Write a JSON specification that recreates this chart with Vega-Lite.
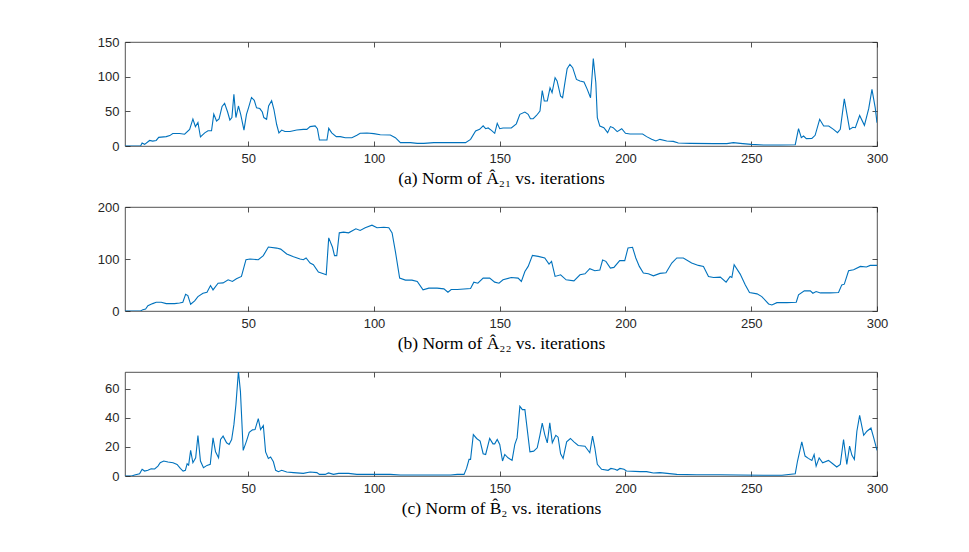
{
  "$schema": "https://vega.github.io/schema/vega-lite/v6.json",
  "padding": {"left": 96, "top": 35, "right": 5, "bottom": 5},
  "spacing": 61,
  "bounds": "flush",
  "datasets": {
    "a": [
      {"it":1,"v":0},{"it":7.2,"v":0},{"it":7.8,"v":4.3},{"it":8.8,"v":2.4},{"it":10.8,"v":8},{"it":12,"v":7},{"it":13.4,"v":8},{"it":14.4,"v":12.5},{"it":17.4,"v":13.5},{"it":18.8,"v":15},{"it":20,"v":18},{"it":22.7,"v":18},{"it":24.7,"v":17},{"it":26.7,"v":24},{"it":28,"v":39},{"it":29,"v":28},{"it":30,"v":34},{"it":31,"v":13},{"it":32.7,"v":19},{"it":34,"v":22},{"it":35.4,"v":22},{"it":36.3,"v":46},{"it":37.4,"v":36},{"it":38.4,"v":39},{"it":39.6,"v":57},{"it":40.6,"v":61.5},{"it":41.8,"v":49},{"it":42.7,"v":37.5},{"it":43.5,"v":41},{"it":44.3,"v":74.5},{"it":45.1,"v":41},{"it":46.1,"v":57.7},{"it":47,"v":45.7},{"it":48.3,"v":23},{"it":49.3,"v":45.7},{"it":50.1,"v":55},{"it":51.3,"v":70},{"it":52.4,"v":66},{"it":53.3,"v":55},{"it":54.6,"v":54},{"it":55.6,"v":49},{"it":56.2,"v":41},{"it":57.3,"v":38.5},{"it":58.1,"v":57.7},{"it":59.3,"v":65.4},{"it":60.2,"v":53},{"it":61.3,"v":31},{"it":62.2,"v":19},{"it":63.3,"v":23},{"it":64.6,"v":21},{"it":66.6,"v":21},{"it":69.3,"v":23},{"it":71.9,"v":24},{"it":73.3,"v":24},{"it":74.6,"v":28},{"it":76.6,"v":29},{"it":77.5,"v":25},{"it":78.3,"v":8.7},{"it":81.3,"v":8.7},{"it":82,"v":25.5},{"it":83.2,"v":19},{"it":85,"v":13.5},{"it":86.6,"v":13.5},{"it":88.6,"v":12},{"it":91.2,"v":12},{"it":93.2,"v":15.4},{"it":94.5,"v":18.3},{"it":97.2,"v":18.8},{"it":99.9,"v":17.8},{"it":102.5,"v":16.3},{"it":106.5,"v":15.9},{"it":108.5,"v":12},{"it":110.5,"v":4.8},{"it":114.5,"v":4.8},{"it":117.2,"v":3.8},{"it":119.8,"v":3.8},{"it":123.8,"v":4.8},{"it":130.5,"v":4.8},{"it":136.4,"v":4.8},{"it":138.4,"v":9.6},{"it":140.4,"v":21.6},{"it":142,"v":24},{"it":143.4,"v":29},{"it":144.4,"v":25},{"it":145.4,"v":26},{"it":146.7,"v":22.6},{"it":148,"v":18.3},{"it":149,"v":32.7},{"it":150,"v":25},{"it":151.3,"v":26},{"it":152.7,"v":26},{"it":154.6,"v":26},{"it":156.6,"v":32},{"it":158,"v":45.7},{"it":160,"v":49},{"it":161.3,"v":45.7},{"it":162.2,"v":39.4},{"it":163.3,"v":39.4},{"it":164.6,"v":44},{"it":166,"v":50.5},{"it":166.9,"v":80},{"it":167.7,"v":65},{"it":168.9,"v":65},{"it":170,"v":84},{"it":170.8,"v":77},{"it":172,"v":98.6},{"it":172.8,"v":93.8},{"it":174.2,"v":72},{"it":175,"v":69.7},{"it":175.9,"v":91},{"it":176.8,"v":111.5},{"it":177.9,"v":117.8},{"it":179,"v":113},{"it":180.5,"v":96},{"it":181.9,"v":93.8},{"it":183.5,"v":92.3},{"it":184.8,"v":81.7},{"it":186.1,"v":69.7},{"it":187.2,"v":126},{"it":188.2,"v":91.3},{"it":188.8,"v":41},{"it":189.8,"v":28.8},{"it":191.4,"v":26.4},{"it":192.9,"v":19.2},{"it":194,"v":28},{"it":195.1,"v":26.4},{"it":196.7,"v":20.7},{"it":198.5,"v":25},{"it":200,"v":18.3},{"it":201.8,"v":17.3},{"it":204.4,"v":17.3},{"it":206.8,"v":17.3},{"it":208.4,"v":13.5},{"it":210.4,"v":9.6},{"it":212.1,"v":7.2},{"it":213.7,"v":9.6},{"it":216.4,"v":7.2},{"it":219,"v":6.7},{"it":221,"v":4.3},{"it":225.7,"v":3.8},{"it":235,"v":3.4},{"it":240.3,"v":3.4},{"it":242.9,"v":4.8},{"it":245.6,"v":3.8},{"it":250,"v":2.4},{"it":254.9,"v":1.4},{"it":261.5,"v":1.4},{"it":267.5,"v":1.9},{"it":268.8,"v":25},{"it":269.9,"v":12},{"it":270.8,"v":14.4},{"it":271.9,"v":10.6},{"it":274.1,"v":11},{"it":275.4,"v":15.4},{"it":277.2,"v":38.5},{"it":278.8,"v":28.8},{"it":280.8,"v":28.8},{"it":282.7,"v":24},{"it":284.3,"v":19.2},{"it":285.4,"v":24},{"it":287,"v":68},{"it":289.1,"v":24},{"it":290.4,"v":27},{"it":291.4,"v":26.4},{"it":293.1,"v":44},{"it":295,"v":29.8},{"it":296.7,"v":53.8},{"it":298,"v":81.7},{"it":299.3,"v":55},{"it":300,"v":33.7}
    ],
    "b": [
      {"it":1,"v":0},{"it":7.2,"v":0},{"it":8.1,"v":2.6},{"it":9.2,"v":3.9},{"it":10.1,"v":10.3},{"it":12,"v":14.2},{"it":13.4,"v":16.8},{"it":15.4,"v":16.8},{"it":17.4,"v":14.2},{"it":20.7,"v":14.2},{"it":22.7,"v":15.5},{"it":24,"v":16.8},{"it":25.1,"v":32},{"it":26,"v":29.7},{"it":27.1,"v":12.9},{"it":28.7,"v":19.4},{"it":30,"v":27.7},{"it":32,"v":34.2},{"it":33.6,"v":36},{"it":35,"v":49},{"it":36,"v":40.6},{"it":38,"v":53.5},{"it":40,"v":54},{"it":42,"v":60},{"it":43.7,"v":56.8},{"it":45.3,"v":62},{"it":47.3,"v":66.5},{"it":49.1,"v":98.7},{"it":50.7,"v":100},{"it":54,"v":98.7},{"it":56,"v":106.5},{"it":58,"v":123},{"it":61.3,"v":121},{"it":62.9,"v":119},{"it":65.3,"v":109.7},{"it":68,"v":104.5},{"it":70.6,"v":100},{"it":71.9,"v":98.7},{"it":73,"v":102},{"it":74.6,"v":92.3},{"it":75.9,"v":89},{"it":77.9,"v":74.8},{"it":79.9,"v":71.6},{"it":81,"v":69.7},{"it":82,"v":140.6},{"it":83.5,"v":122.6},{"it":84.3,"v":106.5},{"it":85.2,"v":106.5},{"it":86.2,"v":150.3},{"it":87.9,"v":151.6},{"it":89.9,"v":150.3},{"it":92.8,"v":158},{"it":94.5,"v":154.8},{"it":96.5,"v":160},{"it":99.2,"v":165},{"it":101.2,"v":160},{"it":103.9,"v":161},{"it":105.9,"v":160},{"it":107.2,"v":150.3},{"it":108.5,"v":114.8},{"it":110.2,"v":63.2},{"it":112.5,"v":59.4},{"it":115.1,"v":59.4},{"it":117.2,"v":56.8},{"it":119.5,"v":40.6},{"it":121.8,"v":43.9},{"it":125.1,"v":43.9},{"it":127.8,"v":42.6},{"it":129.4,"v":36},{"it":130.7,"v":41.3},{"it":133.1,"v":41.3},{"it":138.4,"v":43.2},{"it":139.7,"v":55.5},{"it":141.3,"v":53.5},{"it":143.4,"v":63.2},{"it":146,"v":63.2},{"it":148,"v":55.5},{"it":149.7,"v":53.5},{"it":151.3,"v":60},{"it":154.6,"v":64.5},{"it":157.3,"v":63.2},{"it":158.6,"v":56.8},{"it":160,"v":76},{"it":161.3,"v":85.8},{"it":163,"v":107},{"it":165.3,"v":105},{"it":167.9,"v":102},{"it":169.6,"v":90.3},{"it":170.6,"v":95.5},{"it":172,"v":66.5},{"it":174.2,"v":69.7},{"it":176.4,"v":60},{"it":179.5,"v":58},{"it":181.9,"v":69.7},{"it":183.9,"v":71.6},{"it":185.8,"v":81.3},{"it":187.8,"v":77.4},{"it":189.8,"v":78.7},{"it":190.9,"v":98},{"it":192.2,"v":95.5},{"it":194,"v":82.6},{"it":195.4,"v":83.9},{"it":197.7,"v":96.8},{"it":199.7,"v":96.8},{"it":201,"v":121.3},{"it":202.8,"v":122.6},{"it":204.1,"v":102},{"it":205.5,"v":85.8},{"it":207.1,"v":72.9},{"it":209.1,"v":71.6},{"it":211.1,"v":67.7},{"it":213.7,"v":72.3},{"it":216.1,"v":73.5},{"it":218.4,"v":92.3},{"it":220.4,"v":102},{"it":223,"v":102},{"it":226.3,"v":92.3},{"it":229,"v":87.7},{"it":231,"v":85.8},{"it":233,"v":66.5},{"it":235,"v":64.5},{"it":237.7,"v":65.2},{"it":240,"v":55.5},{"it":241.6,"v":66.5},{"it":242.3,"v":64.5},{"it":243.2,"v":89},{"it":245.6,"v":71},{"it":247.6,"v":50.3},{"it":249.3,"v":35.5},{"it":252.3,"v":32.9},{"it":254.2,"v":27.7},{"it":256.9,"v":13.5},{"it":258.2,"v":11.6},{"it":260.2,"v":16.1},{"it":264.2,"v":16.1},{"it":267.9,"v":16.8},{"it":268.8,"v":31},{"it":271.1,"v":38.7},{"it":273.5,"v":38.7},{"it":274.5,"v":34.2},{"it":275.8,"v":37.4},{"it":277.5,"v":34.8},{"it":281.4,"v":34.8},{"it":284.7,"v":35.5},{"it":286,"v":50.3},{"it":287,"v":51.6},{"it":288.7,"v":77.4},{"it":290.7,"v":79.4},{"it":293.4,"v":85.8},{"it":295.8,"v":84.5},{"it":297.3,"v":87.7},{"it":300,"v":87.7}
    ],
    "c": [
      {"it":1,"v":0},{"it":3.7,"v":0},{"it":4.8,"v":0.7},{"it":6.8,"v":1.6},{"it":7.8,"v":4.6},{"it":8.8,"v":3.4},{"it":10.1,"v":3.9},{"it":11.4,"v":5},{"it":12.8,"v":4.8},{"it":14.1,"v":6.8},{"it":15,"v":9.1},{"it":16.4,"v":10.3},{"it":18.1,"v":9.6},{"it":20.1,"v":9.1},{"it":21.7,"v":8},{"it":23,"v":5.2},{"it":24.1,"v":3.4},{"it":25,"v":3.9},{"it":25.7,"v":8.4},{"it":26.3,"v":7.5},{"it":27.1,"v":17.6},{"it":28,"v":9.1},{"it":29.1,"v":12.5},{"it":30,"v":27.8},{"it":31,"v":10.3},{"it":32.2,"v":5.7},{"it":33.6,"v":7.3},{"it":34.9,"v":8},{"it":36,"v":26.2},{"it":37,"v":16.6},{"it":38.2,"v":12.5},{"it":39,"v":25.1},{"it":40,"v":27.4},{"it":41.4,"v":22.8},{"it":42.4,"v":21.7},{"it":43.4,"v":25.1},{"it":44.3,"v":35.3},{"it":45.1,"v":49},{"it":46.1,"v":72},{"it":46.9,"v":58},{"it":48,"v":17.6},{"it":49.3,"v":24},{"it":50.4,"v":30},{"it":51.7,"v":31.7},{"it":52.7,"v":31.9},{"it":54,"v":39.5},{"it":54.9,"v":31.9},{"it":56,"v":34.7},{"it":56.9,"v":16.6},{"it":58,"v":12.1},{"it":58.9,"v":13},{"it":60,"v":9.8},{"it":60.9,"v":3.9},{"it":62,"v":3},{"it":63.3,"v":3.9},{"it":65.3,"v":2.7},{"it":68,"v":2.3},{"it":71.9,"v":1.8},{"it":74.6,"v":2.7},{"it":77.3,"v":2.3},{"it":78.3,"v":1.1},{"it":80.6,"v":1.1},{"it":81.9,"v":2.1},{"it":83.9,"v":1.1},{"it":85.9,"v":1.8},{"it":89.9,"v":1.8},{"it":93.2,"v":1.1},{"it":99.9,"v":1.1},{"it":106.5,"v":1.1},{"it":110.5,"v":0.7},{"it":119.8,"v":0.7},{"it":130.5,"v":0.7},{"it":133.1,"v":1.1},{"it":135.8,"v":1.1},{"it":136.8,"v":5.2},{"it":137.8,"v":11.4},{"it":138.4,"v":11.4},{"it":139.5,"v":28.5},{"it":140.8,"v":25.8},{"it":142.2,"v":24},{"it":143.4,"v":15.3},{"it":144.4,"v":14.8},{"it":146,"v":25.8},{"it":147.3,"v":22.1},{"it":148,"v":22.1},{"it":149,"v":25.1},{"it":150,"v":21.7},{"it":151.1,"v":10.3},{"it":152,"v":14.8},{"it":153.3,"v":12.5},{"it":154.9,"v":10.7},{"it":156,"v":21.7},{"it":156.9,"v":26.2},{"it":158,"v":47.9},{"it":159,"v":45.6},{"it":160,"v":45.6},{"it":162,"v":16.6},{"it":163.5,"v":17.1},{"it":164.9,"v":19.4},{"it":165.9,"v":27.4},{"it":166.9,"v":36.3},{"it":167.9,"v":28.5},{"it":168.9,"v":22.8},{"it":169.9,"v":36.5},{"it":170.9,"v":22.8},{"it":172.3,"v":28},{"it":173.2,"v":26.7},{"it":174.2,"v":15.3},{"it":175.2,"v":12.1},{"it":176.6,"v":23.5},{"it":178.1,"v":25.8},{"it":179.5,"v":23.5},{"it":181.2,"v":21},{"it":183.9,"v":20.5},{"it":185.8,"v":16},{"it":186.9,"v":27.4},{"it":187.8,"v":19.4},{"it":188.8,"v":8},{"it":190.5,"v":4.6},{"it":193.1,"v":3.9},{"it":194.2,"v":5.2},{"it":195.8,"v":4.6},{"it":196.7,"v":3.9},{"it":197.8,"v":5.2},{"it":199.4,"v":4.6},{"it":200.4,"v":3.4},{"it":205.8,"v":3},{"it":208.4,"v":3},{"it":211.1,"v":2.1},{"it":213.7,"v":2.3},{"it":220.4,"v":1.1},{"it":228.3,"v":0.9},{"it":237.6,"v":0.9},{"it":245.6,"v":0.7},{"it":254.9,"v":0.5},{"it":262.2,"v":0.5},{"it":267.5,"v":1.6},{"it":268.4,"v":10.3},{"it":270.1,"v":23.5},{"it":271.4,"v":13.7},{"it":272.7,"v":12.1},{"it":274.1,"v":10.7},{"it":275,"v":14.8},{"it":275.8,"v":6.8},{"it":277,"v":12.5},{"it":278.4,"v":9.1},{"it":280.7,"v":10.7},{"it":282.4,"v":8.4},{"it":284,"v":6.2},{"it":285.4,"v":8},{"it":286.7,"v":25.1},{"it":288,"v":8},{"it":289.1,"v":20.5},{"it":290,"v":14.4},{"it":291,"v":11.4},{"it":292,"v":30.8},{"it":293.1,"v":41.7},{"it":294.7,"v":28},{"it":296,"v":30.8},{"it":297.6,"v":33},{"it":298.7,"v":26.2},{"it":300,"v":17.6}
    ]
  },
  "vconcat": [
    {
      "width": 752,
      "height": 104,
      "data": {"name": "a"},
      "layer": [
        {
          "mark": {"type": "line", "color": "#0072BD", "strokeWidth": 1.1, "clip": true},
          "encoding": {
            "x": {"field": "it", "type": "quantitative", "scale": {"domain": [1, 300], "nice": false},
                  "axis": {"values": [50, 100, 150, 200, 250, 300], "title": "(a) Norm of Â₂₁ vs. iterations"}},
            "y": {"field": "v", "type": "quantitative", "scale": {"domain": [0, 150], "nice": false},
                  "axis": {"values": [0, 50, 100, 150], "title": null}}
          }
        },
        {
          "mark": {"type": "line", "opacity": 0},
          "encoding": {
            "x": {"field": "it", "type": "quantitative", "axis": {"orient": "top", "values": [50, 100, 150, 200, 250, 300], "labels": false, "title": null}},
            "y": {"field": "v", "type": "quantitative", "axis": {"orient": "right", "values": [0, 50, 100, 150], "labels": false, "title": null}}
          }
        }
      ],
      "resolve": {"axis": {"x": "independent", "y": "independent"}}
    },
    {
      "width": 752,
      "height": 104,
      "data": {"name": "b"},
      "layer": [
        {
          "mark": {"type": "line", "color": "#0072BD", "strokeWidth": 1.1, "clip": true},
          "encoding": {
            "x": {"field": "it", "type": "quantitative", "scale": {"domain": [1, 300], "nice": false},
                  "axis": {"values": [50, 100, 150, 200, 250, 300], "title": "(b) Norm of Â₂₂ vs. iterations"}},
            "y": {"field": "v", "type": "quantitative", "scale": {"domain": [0, 200], "nice": false},
                  "axis": {"values": [0, 100, 200], "title": null}}
          }
        },
        {
          "mark": {"type": "line", "opacity": 0},
          "encoding": {
            "x": {"field": "it", "type": "quantitative", "axis": {"orient": "top", "values": [50, 100, 150, 200, 250, 300], "labels": false, "title": null}},
            "y": {"field": "v", "type": "quantitative", "axis": {"orient": "right", "values": [0, 100, 200], "labels": false, "title": null}}
          }
        }
      ],
      "resolve": {"axis": {"x": "independent", "y": "independent"}}
    },
    {
      "width": 752,
      "height": 104,
      "data": {"name": "c"},
      "layer": [
        {
          "mark": {"type": "line", "color": "#0072BD", "strokeWidth": 1.1, "clip": true},
          "encoding": {
            "x": {"field": "it", "type": "quantitative", "scale": {"domain": [1, 300], "nice": false},
                  "axis": {"values": [50, 100, 150, 200, 250, 300], "title": "(c) Norm of B̂₂ vs. iterations"}},
            "y": {"field": "v", "type": "quantitative", "scale": {"domain": [0, 71.5], "nice": false},
                  "axis": {"values": [0, 20, 40, 60], "title": null}}
          }
        },
        {
          "mark": {"type": "line", "opacity": 0},
          "encoding": {
            "x": {"field": "it", "type": "quantitative", "axis": {"orient": "top", "values": [50, 100, 150, 200, 250, 300], "labels": false, "title": null}},
            "y": {"field": "v", "type": "quantitative", "axis": {"orient": "right", "values": [0, 20, 40, 60], "labels": false, "title": null}}
          }
        }
      ],
      "resolve": {"axis": {"x": "independent", "y": "independent"}}
    }
  ],
  "config": {
    "view": {"stroke": "#262626", "strokeWidth": 0.8},
    "axis": {
      "grid": false,
      "domain": false,
      "tickSize": -5,
      "tickColor": "#262626",
      "tickWidth": 0.8,
      "labelFont": "Liberation Sans",
      "labelFontSize": 13,
      "labelColor": "#262626",
      "labelPadding": 11,
      "labelFlush": false,
      "titleFont": "Liberation Serif",
      "titleFontSize": 17.5,
      "titleFontWeight": "normal",
      "titleColor": "#000000",
      "titlePadding": 4
    }
  }
}
